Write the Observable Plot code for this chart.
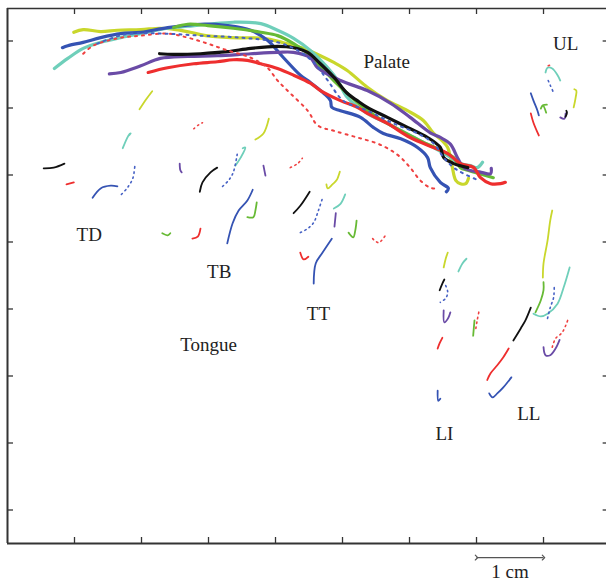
<!DOCTYPE html>
<html><head><meta charset="utf-8">
<script src="https://cdn.jsdelivr.net/npm/d3@7"></script>
<script src="https://cdn.jsdelivr.net/npm/@observablehq/plot@0.6"></script>
<style>body{margin:0;background:#fff;overflow:hidden}</style>
</head><body><div id="chart"></div>
<script>
// Conditions (9 recordings); H and I are the dotted ones
const conditions = ["A","B","C","D","E","F","G","H","I"];
const dottedConditions = ["H","I"];

// Tick values (mm)
const xTicks = [10,20,30,40,50,60,70,80];
const yTicks = [10,20,30,40,50,60,70,80];

// Palate traces, mm
const palate = [
  ["A", [[9.9,81.3],[11.3,81.7],[13.9,81.4],[16.4,81.6],[19.9,81.7],[22.8,81.9],[25.1,81.7],[27.3,81.3],[29.6,80.8],[33.3,80.5],[38.2,80.4],[41.0,79.8],[44.2,78.9],[46.7,77.8],[48.7,76.8],[50.7,75.6],[53.7,73.1],[56.7,71.1],[59.7,69.6],[62.1,68.1],[63.6,66.2],[64.9,65.1],[65.7,64.1],[66.1,62.6],[66.4,61.1],[66.9,59.2],[67.6,58.7],[68.4,58.7],[68.8,59.5]]],
  ["C", [[7.0,75.9],[9.0,77.4],[11.3,78.9],[13.9,79.8],[16.9,80.5],[19.9,81.1],[23.9,81.9],[26.9,82.2],[29.9,82.5],[33.7,82.8],[37.8,82.6],[40.3,81.6],[42.7,80.4],[45.2,78.6],[47.8,76.0],[49.3,74.1],[50.7,71.6],[53.7,69.2],[56.7,67.7],[60.1,65.9],[63.6,64.1],[65.7,62.9],[67.6,61.7],[69.1,61.4],[70.1,61.1],[70.9,61.9]]],
  ["B", [[8.2,79.0],[9.0,79.3],[11.3,79.8],[13.9,80.5],[16.9,81.1],[19.9,81.3],[23.9,82.0],[28.8,82.5],[32.8,82.3],[36.3,81.6],[38.8,80.1],[41.2,77.5],[43.7,74.9],[45.2,73.8],[47.2,72.2],[48.2,71.1],[48.4,70.1],[49.7,69.6],[52.7,68.6],[54.6,67.1],[56.1,66.2],[58.7,65.4],[61.2,64.1],[62.7,62.6],[63.1,61.1],[64.6,58.9],[65.8,58.0],[65.5,57.5]]],
  ["D", [[24.8,82.0],[26.9,82.5],[29.9,82.3],[33.7,81.9],[37.8,81.3],[40.3,80.8],[42.7,79.6],[45.2,77.8],[46.3,76.6],[48.7,74.1],[50.7,72.2],[53.1,70.1],[55.2,68.6],[58.7,66.6],[61.6,65.1],[64.6,63.7],[66.6,62.6],[67.6,61.1],[68.7,60.7],[72.5,59.6]]],
  ["F", [[15.2,75.1],[16.9,75.3],[19.9,76.3],[22.8,77.4],[26.9,77.7],[31.3,77.8],[36.3,78.1],[40.3,78.3],[42.7,78.3],[45.2,77.5],[46.3,76.0],[49.7,74.1],[53.7,72.6],[57.2,70.7],[60.1,68.6],[63.1,66.3],[64.6,65.6],[66.1,64.6],[67.2,62.5],[68.2,61.0],[70.7,60.4],[72.1,60.2],[72.2,61.0]]],
  ["G", [[21.0,75.3],[23.9,76.0],[27.8,76.6],[31.3,76.9],[33.7,77.2],[35.8,77.1],[37.8,76.6],[40.3,75.9],[42.7,74.9],[45.2,73.7],[46.7,72.6],[49.7,71.1],[52.2,70.1],[53.7,69.2],[56.7,67.7],[60.1,65.6],[63.6,64.1],[65.7,63.2],[67.6,61.7],[69.6,61.1],[70.6,59.6],[72.1,58.7],[73.6,58.7],[74.3,58.9]]],
  ["E", [[22.7,78.1],[24.8,78.0],[28.8,78.1],[32.8,78.4],[36.3,78.9],[40.3,79.2],[42.7,79.0],[44.8,78.3],[46.7,76.6],[48.7,74.6],[50.7,72.2],[52.2,71.1],[53.7,70.1],[56.7,68.6],[59.7,67.1],[62.7,65.6],[64.6,64.1],[65.1,62.6],[66.6,61.7],[68.7,61.1]]],
  ["H", [[11.3,78.1],[12.8,79.3],[16.4,80.4],[19.9,80.8],[23.9,81.1],[26.9,80.5],[29.9,79.6],[32.8,78.6],[36.3,77.5],[38.8,76.0],[40.3,74.1],[42.2,72.2],[44.8,69.6],[46.3,67.4],[48.7,66.6],[52.2,65.6],[55.2,64.7],[57.2,63.7],[58.7,62.6],[60.1,61.1],[61.6,59.2],[63.1,58.1],[64.3,58.0]]],
  ["I", [[13.4,79.6],[16.4,80.7],[18.4,81.1],[23.3,81.1],[28.8,80.8],[34.8,80.5],[40.3,79.8],[43.3,78.6],[45.7,76.8],[47.8,74.1],[50.1,71.1],[53.7,69.6],[57.6,67.7],[61.2,66.2],[63.6,64.7],[65.1,62.6],[66.6,61.1],[68.1,60.2],[70.3,59.2]]]
];

// Sensor trajectories, mm
const TD = [
  ["E", [[5.4,61.0],[6.9,61.1],[8.5,61.7]]],
  ["G", [[8.8,58.6],[9.9,58.9]]],
  ["B", [[12.7,56.6],[13.9,58.0],[15.4,58.4],[16.4,58.3]]],
  ["I", [[17.0,57.1],[17.9,58.1],[18.7,59.5],[19.0,61.3]]],
  ["C", [[17.2,64.0],[17.8,65.4],[18.2,66.1],[18.4,66.2],[18.0,65.8]]],
  ["A", [[19.7,69.8],[20.7,71.3],[21.6,72.5]]],
  ["H", [[27.8,66.9],[28.4,67.4],[29.1,67.8]]],
  ["F", [[25.7,61.7],[25.8,60.7],[26.0,60.4]]],
  ["D", [[23.1,51.3],[23.9,51.0],[24.3,51.3]]]
];
const TB = [
  ["E", [[28.7,57.5],[29.1,58.9],[30.3,60.4],[31.3,61.1]]],
  ["I", [[32.1,58.3],[33.0,59.2],[33.7,60.4],[34.3,63.2]]],
  ["C", [[34.0,61.4],[34.8,62.6],[35.5,64.1],[35.1,64.0]]],
  ["A", [[37.0,65.3],[38.2,66.2],[39.0,68.4]]],
  ["F", [[38.2,61.4],[38.4,60.4],[38.5,59.9]]],
  ["H", [[42.2,61.1],[43.3,61.7],[44.0,62.5]]],
  ["B", [[32.8,49.8],[33.6,52.8],[34.5,54.7],[35.8,56.2],[36.6,57.8]]],
  ["D", [[35.8,53.7],[36.7,53.7],[37.0,54.7],[37.2,55.9]]],
  ["G", [[27.6,50.5],[28.4,50.8],[28.8,52.0]]]
];
const TT = [
  ["E", [[42.7,54.3],[43.7,55.4],[45.1,57.5]]],
  ["C", [[48.7,55.0],[49.7,55.7],[50.4,57.1]]],
  ["I", [[43.7,51.4],[44.8,52.0],[45.7,52.9],[46.4,54.7],[47.0,56.5]]],
  ["A", [[49.6,60.5],[49.1,59.2],[48.5,58.6],[47.8,58.0],[47.6,58.6]]],
  ["F", [[49.0,54.3],[48.8,52.3]]],
  ["D", [[52.1,53.2],[51.9,51.7],[51.6,50.7],[50.9,51.4]]],
  ["H", [[54.5,50.5],[55.4,49.9],[56.6,51.3]]],
  ["G", [[43.7,48.4],[44.2,47.4],[44.9,47.8]]],
  ["B", [[45.7,43.8],[46.0,46.8],[47.0,48.4],[48.4,50.5]]]
];
const LI = [
  ["A", [[65.1,46.2],[65.4,47.5],[65.7,48.4]]],
  ["C", [[67.3,45.6],[67.9,46.8],[68.5,47.5]]],
  ["E", [[64.5,42.8],[64.9,43.8],[65.2,44.4]]],
  ["I", [[65.4,43.5],[65.7,42.5],[65.4,41.6],[64.6,41.0]]],
  ["F", [[65.1,39.8],[65.2,38.0],[65.8,38.7],[66.1,39.5]]],
  ["G", [[64.2,34.1],[64.5,34.9],[64.9,35.7]]],
  ["B", [[64.2,27.8],[64.3,26.3],[64.6,26.6]]],
  ["D", [[69.5,36.0],[69.6,37.2],[69.7,38.3]]],
  ["H", [[69.9,37.1],[70.1,38.3],[70.4,39.8]]]
];
const UL = [
  ["C", [[80.3,75.3],[80.6,76.0],[81.3,75.9],[82.1,74.9],[82.5,74.1]]],
  ["H", [[80.7,76.3],[81.3,76.5]]],
  ["I", [[80.7,74.1],[81.0,73.4],[81.5,72.3]]],
  ["B", [[78.1,72.2],[78.5,71.1],[79.1,69.6],[79.3,68.9]]],
  ["G", [[78.1,69.2],[78.5,67.8],[79.3,65.9]]],
  ["D", [[80.4,69.3],[79.9,70.4],[79.6,69.9],[79.9,70.4],[80.5,70.5]]],
  ["A", [[84.5,70.1],[84.8,71.6],[84.9,72.6],[84.6,72.8]]],
  ["F", [[82.5,68.6],[83.1,68.4],[83.3,69.2]]],
  ["E", [[83.3,68.7],[83.5,69.3],[83.4,69.6]]]
];
const LL = [
  ["A", [[79.9,44.7],[80.0,46.8],[80.6,50.2],[81.0,53.2],[81.3,54.7]]],
  ["D", [[78.8,39.5],[79.6,41.3],[80.0,42.8],[80.0,44.0]]],
  ["C", [[78.5,39.3],[79.6,38.9],[80.6,39.3],[82.1,40.8],[83.0,43.2],[83.9,46.2]]],
  ["I", [[80.6,38.6],[81.0,40.2],[81.5,41.7],[81.6,43.2]]],
  ["E", [[75.5,35.3],[76.6,37.1],[77.3,38.3],[78.1,40.2]]],
  ["H", [[81.3,34.3],[81.8,35.6],[82.8,36.5],[83.6,38.3]]],
  ["F", [[80.0,34.3],[80.3,33.1],[81.0,33.1],[81.8,34.1],[82.4,35.4]]],
  ["G", [[71.6,29.4],[72.1,30.4],[73.1,31.6],[74.0,32.8],[74.8,34.1]]],
  ["B", [[71.9,27.4],[72.4,26.8],[73.1,27.4],[74.0,28.3],[75.2,29.8]]]
];

// Text annotations (label, x mm, baseline y mm)
const labels = [
  ["Palate", 56.6, 75.9], ["UL", 83.3, 78.7], ["TD", 12.2, 50.1], ["TB", 31.6, 44.6],
  ["TT", 46.4, 38.3], ["Tongue", 30.0, 33.8], ["LI", 65.2, 20.5], ["LL", 77.8, 23.4],
  ["1 cm", 75.0, -0.2]
];
const scaleBar = [{x1: 70, x2: 80, y: 2.9}];

// ---- build tables ----
function rowsOf(sensor, list) {
  const out = [];
  list.forEach(([cond, pts], i) => pts.forEach(([x, y]) => out.push({sensor, cond, seg: sensor + i, x, y})));
  return out;
}
const palateRows = rowsOf("palate", palate);
const sensorRows = [["TD",TD],["TB",TB],["TT",TT],["LI",LI],["UL",UL],["LL",LL]].flatMap(([s, l]) => rowsOf(s, l));
const isDot = d => dottedConditions.includes(d.cond);

const X0 = 0, X1 = 89.4, Y0 = 5, Y1 = 84.85;
const axisColor = "#333";

const chart = Plot.plot({
  width: 606, height: 584,
  marginLeft: 7, marginRight: 0, marginTop: 8, marginBottom: 41,
  x: {domain: [X0, X1], axis: null},
  y: {domain: [Y0, Y1], axis: null},
  color: {domain: conditions, range: ["#c9d72c","#3553b3","#6fcfba","#67ba35","#111111","#6a4ba6","#ee2e2e","#ef4040","#4560c4"]},
  style: {fontFamily: "'Liberation Serif', 'Times New Roman', serif", background: "white", overflow: "visible"},
  marks: [
    // frame
    Plot.ruleX([X0], {y1: Y0, y2: Y1, stroke: axisColor, strokeWidth: 2}),
    Plot.ruleY([Y0], {x1: X0, x2: X1, stroke: axisColor, strokeWidth: 2}),
    Plot.ruleY([Y1], {x1: X0, x2: X1, stroke: axisColor, strokeWidth: 1.5}),
    // inward ticks
    Plot.ruleX(xTicks, {x: d => d, y1: Y0, y2: Y0 + 0.9, stroke: axisColor, strokeWidth: 1.3}),
    Plot.ruleX(xTicks, {x: d => d, y1: Y1, y2: Y1 - 0.9, stroke: axisColor, strokeWidth: 1.3}),
    Plot.ruleY(yTicks, {y: d => d, x1: X0, x2: X0 + 0.9, stroke: axisColor, strokeWidth: 1.3}),
    Plot.ruleY(yTicks, {y: d => d, x1: X1 - 0.5, x2: X1, stroke: axisColor, strokeWidth: 1.3}),
    // palate traces
    Plot.line(palateRows.filter(d => !isDot(d)), {x: "x", y: "y", z: "seg", stroke: "cond", strokeWidth: 3.2, strokeLinejoin: "round", strokeLinecap: "round", curve: "catmull-rom"}),
    Plot.line(palateRows.filter(isDot), {x: "x", y: "y", z: "seg", stroke: "cond", strokeWidth: 2, strokeDasharray: "2,5", curve: "catmull-rom"}),
    // sensor trajectories
    Plot.line(sensorRows.filter(d => !isDot(d)), {x: "x", y: "y", z: "seg", stroke: "cond", strokeWidth: 1.8, strokeLinejoin: "round", strokeLinecap: "round", curve: "catmull-rom"}),
    Plot.line(sensorRows.filter(isDot), {x: "x", y: "y", z: "seg", stroke: "cond", strokeWidth: 1.6, strokeDasharray: "1.4,3.6", curve: "catmull-rom"}),
    // scale bar
    Plot.link(scaleBar, {x1: "x1", x2: "x2", y1: "y", y2: "y", stroke: "#555", strokeWidth: 1.2, markerStart: "arrow", markerEnd: "arrow"}),
    // labels
    Plot.text(labels, {x: d => d[1], y: d => d[2], text: d => d[0], fontSize: 19, fill: "#222", lineAnchor: "bottom", textAnchor: "middle"})
  ]
});
document.getElementById("chart").appendChild(chart);
</script>
</body></html>
